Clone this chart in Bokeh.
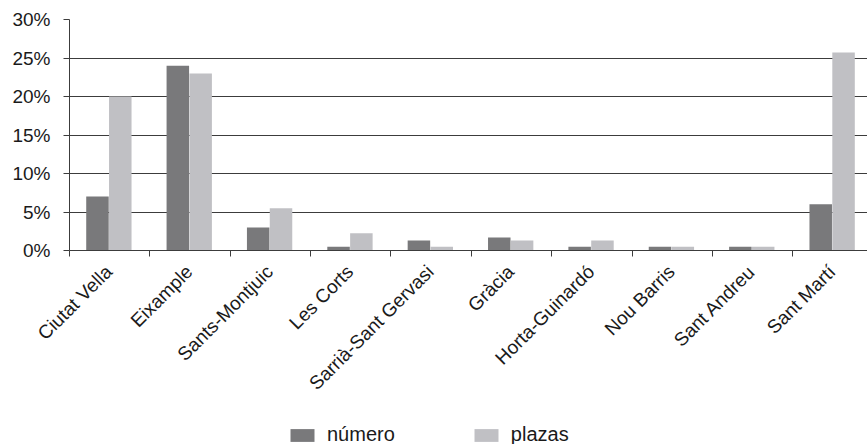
from bokeh.plotting import figure
from bokeh.models import (ColumnDataSource, Range1d, FixedTicker, Legend,
                          LegendItem)
from bokeh.layouts import column
from bokeh.transform import dodge
from bokeh.embed import file_html
from bokeh.resources import INLINE
import math

# Barcelona districts and their share (%) of establishments and of places
districts = ["Ciutat Vella", "Eixample", "Sants-Montjuic", "Les Corts",
             "Sarrià-Sant Gervasi", "Gràcia", "Horta-Guinardó", "Nou Barris",
             "Sant Andreu", "Sant Martí"]
numero = [7.0, 24.0, 3.0, 0.5, 1.3, 1.7, 0.5, 0.5, 0.5, 6.0]
plazas = [20.0, 23.0, 5.5, 2.25, 0.5, 1.3, 1.3, 0.5, 0.5, 25.7]
y_ticks = [0, 5, 10, 15, 20, 25, 30]
y_tick_labels = ["0%", "5%", "10%", "15%", "20%", "25%", "30%"]
series_labels = ["número", "plazas"]

FONT = "Liberation Sans"
DARK = "#79797b"
LIGHT = "#c0c0c4"
LINE = "#3c3c3c"
TEXT = "#1a1a1a"

centers = [i + 0.49 for i in range(len(districts))]
src = ColumnDataSource(dict(x=centers, numero=numero, plazas=plazas))

p = figure(width=867, height=420, output_backend="svg", toolbar_location=None,
           x_range=Range1d(0, 9.93), y_range=Range1d(0, 30),
           min_border_left=69, min_border_right=0, min_border_top=19,
           min_border_bottom=170)
p.outline_line_color = None

p.vbar(x=dodge("x", -0.142, range=p.x_range), top="numero", width=0.28,
       source=src, fill_color=DARK, line_color=None)
p.vbar(x=dodge("x", 0.142, range=p.x_range), top="plazas", width=0.28,
       source=src, fill_color=LIGHT, line_color=None)

# y axis: percentages with outward ticks, horizontal grid
p.yaxis.ticker = FixedTicker(ticks=y_ticks, minor_ticks=[])
p.yaxis.major_label_overrides = {t: s for t, s in zip(y_ticks, y_tick_labels)}
p.yaxis.major_label_text_font = FONT
p.yaxis.major_label_text_font_size = "19px"
p.yaxis.major_label_text_color = TEXT
p.yaxis.major_label_standoff = 13
p.yaxis.major_tick_in = 0
p.yaxis.major_tick_out = 6
p.yaxis.major_tick_line_color = LINE
p.yaxis.axis_line_color = LINE
p.ygrid.grid_line_color = LINE
p.ygrid.grid_line_width = 1
p.xgrid.grid_line_color = None

# x axis: district names at the centres, tick marks at the boundaries
p.xaxis.ticker = FixedTicker(ticks=centers,
                             minor_ticks=list(range(len(districts) + 1)))
p.xaxis.major_label_overrides = {c: d for c, d in zip(centers, districts)}
p.xaxis.major_label_orientation = math.pi / 4
p.xaxis.major_label_text_font = FONT
p.xaxis.major_label_text_font_size = "19px"
p.xaxis.major_label_text_color = TEXT
p.xaxis.major_label_standoff = 12
p.xaxis.major_tick_line_color = None
p.xaxis.minor_tick_in = 0
p.xaxis.minor_tick_out = 6
p.xaxis.minor_tick_line_color = LINE
p.xaxis.axis_line_color = LINE

# legend strip underneath the chart (its frame lines up with the chart's)
lg = figure(width=867, height=24, output_backend="svg", toolbar_location=None,
            x_range=Range1d(0, 1), y_range=Range1d(0, 1),
            x_axis_location=None, y_axis_location=None,
            min_border=0)
lg.outline_line_color = None
lg.xgrid.visible = False
lg.ygrid.visible = False
# keys only: the bars sit outside the visible range
k_num = lg.vbar(x=[5], top=[1], width=0.1, fill_color=DARK, line_color=None)
k_pla = lg.vbar(x=[5], top=[1], width=0.1, fill_color=LIGHT, line_color=None)
legend = Legend(items=[LegendItem(label=series_labels[0], renderers=[k_num]),
                       LegendItem(label=series_labels[1], renderers=[k_pla])],
                orientation="horizontal", location=(218, -2),
                glyph_width=30, glyph_height=16, label_standoff=10,
                spacing=76, padding=0, margin=0,
                label_text_font=FONT, label_text_font_size="20px",
                label_text_color=TEXT,
                border_line_color=None, background_fill_alpha=0)
lg.add_layout(legend, "center")

layout = column(p, lg, spacing=0)
open("out.html", "w").write(file_html(layout, INLINE))
